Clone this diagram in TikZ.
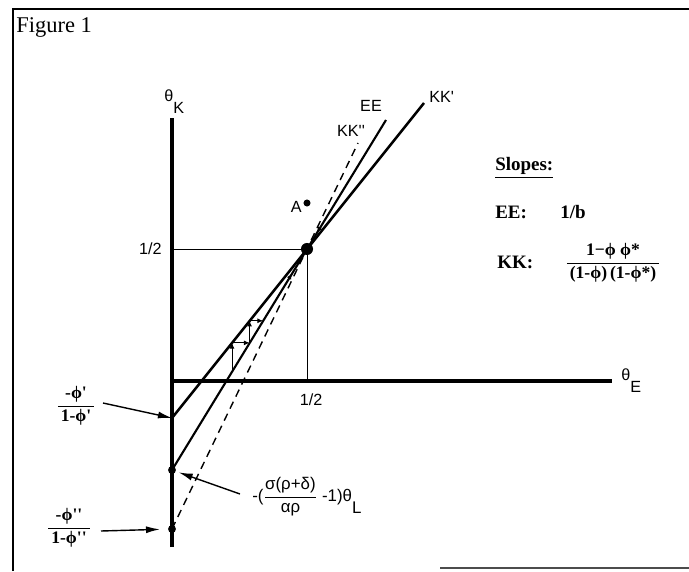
\documentclass[tikz,border=0pt]{standalone}
\usepackage{fontspec}
\usepackage{amsmath}
\setmainfont{Liberation Serif}
\setsansfont{Liberation Sans}
\usetikzlibrary{arrows.meta}

\tikzset{
  axisline/.style={line width=2.2pt},
  curveline/.style={line width=1.5pt},
  guide/.style={line width=0.6pt},
  stepline/.style={line width=0.7pt,-{Latex[length=4pt,width=3.5pt]}},
  pointer/.style={line width=1pt,-{Latex[length=10pt,width=5pt]}},
  lbl/.style={font=\sffamily\fontsize{11.5}{13}\selectfont,inner sep=0pt},
  slopetxt/.style={font=\bfseries\fontsize{13.5}{15}\selectfont,inner sep=0pt,anchor=base west},
  fractxt/.style={font=\bfseries\fontsize{12.5}{14}\selectfont,inner sep=0pt},
}
\newcommand{\pr}{\textquotesingle}

\begin{document}
\begin{tikzpicture}[x=0.025cm,y=-0.025cm]
\path[use as bounding box] (0,0) rectangle (689,571);
\fill[white] (0,0) rectangle (689,571);
% frame
\draw[line width=1pt] (13,571) -- (13,9) -- (689,9);
\draw[line width=0.8pt,black!70] (440,568) -- (689,568);
\node[anchor=base west,inner sep=0pt,font=\fontsize{16}{18}\selectfont] (fig) at (16,33) {Figure 1};

% axes
\coordinate (O) at (172,381);
\coordinate (ytop) at (172,118);
\coordinate (ybot) at (172,547);
\coordinate (xend) at (612,381);
\draw[axisline] (ybot) -- (ytop);
\draw[axisline] (O) -- (xend);
\node[lbl,anchor=base west] (thk) at (164,102) {θ\raisebox{-8pt}{K}};
\node[lbl,anchor=base west] (the) at (621,380) {θ\raisebox{-9pt}{E}};

% steady state
\coordinate (P) at (307,249);
\coordinate (yhalf) at (172,249);
\coordinate (xhalf) at (307,381);
\draw[guide] (yhalf) -- (P) -- (xhalf);
\node[lbl,anchor=east] (half1) at (162,249) {1/2};
\node[lbl] (half2) at (311,400) {1/2};

% intercepts
\coordinate (kk1) at (172,418);
\coordinate (ee0) at (172,470);
\coordinate (kk2) at (172,529);

% schedules
\coordinate (eetop) at (386,120);
\coordinate (kk1top) at (424,103);
\coordinate (kk2top) at (358,143);
\draw[line width=1.8pt] (kk1) -- (kk1top);
\draw[curveline] (ee0) -- (eetop);
\draw[line width=1pt,dash pattern=on 5.5pt off 4pt] (kk2) -- (kk2top);
\node[lbl] (eelab) at (371,106) {EE};
\node[lbl,anchor=west] (kk1lab) at (429,97) {KK\pr};
\node[lbl] (kk2lab) at (351,131) {KK\pr\pr};

% adjustment path
\coordinate (s1) at (232,371.8);
\coordinate (s2) at (232,342.9);
\coordinate (s3) at (249.6,342.9);
\coordinate (s4) at (249.6,320.8);
\coordinate (s5) at (263.1,320.8);
\draw[stepline] (s1) -- (s2);
\draw[stepline] (s2) -- (s3);
\draw[stepline] (s3) -- (s4);
\draw[stepline] (s4) -- (s5);
\coordinate (ar1) at (286,283.4);
\coordinate (ar1b) at (292,273.6);
\coordinate (ar2) at (321,226.1);
\coordinate (ar2b) at (317,232.6);
\draw[stepline] (ar1) -- (ar1b);
\draw[stepline] (ar2) -- (ar2b);

% dots
\fill (P) circle (4.3pt);
\fill (ee0) circle (2.8pt);
\fill (kk2) circle (2.8pt);
\coordinate (A) at (307,203);
\fill (A) circle (2.5pt);
\node[lbl,anchor=east] (alab) at (302,207) {A};

% intercept labels
\node[fractxt] (frac1) at (76,406) {$\dfrac{\text{\,-ϕ\pr\,}}{\text{\,1-ϕ\pr\,}}$};
\draw[pointer] (103,403) -- (kk1);
\node[fractxt] (frac2) at (69,528) {$\dfrac{\text{-ϕ\pr\pr}}{\text{\,1-ϕ\pr\pr\,}}$};
\draw[pointer,shorten >=8.5pt] (101,531) -- (kk2);
\node[lbl,anchor=west,font=\sffamily\fontsize{12}{14}\selectfont] (thl) at (252,497) {-($\dfrac{\text{σ(ρ+δ)}}{\text{αρ}}$ -1)θ\raisebox{-9pt}{L}};
\coordinate (thlfoot) at (240,494);
\draw[pointer,shorten >=5pt] (thlfoot) -- (ee0);

% slopes
\node[slopetxt] (slp) at (495,171) {\underline{Slopes:}};
\node[slopetxt] (eek) at (495,218) {EE:};
\node[slopetxt] (eev) at (560,218) {1/b};
\node[slopetxt] (kkk) at (497,268) {KK:};
\node[fractxt] (kkv) at (613,263) {$\dfrac{\text{1−ϕ ϕ*}}{\text{\,(1-ϕ)\,(1-ϕ*)\,}}$};
\end{tikzpicture}
\end{document}
